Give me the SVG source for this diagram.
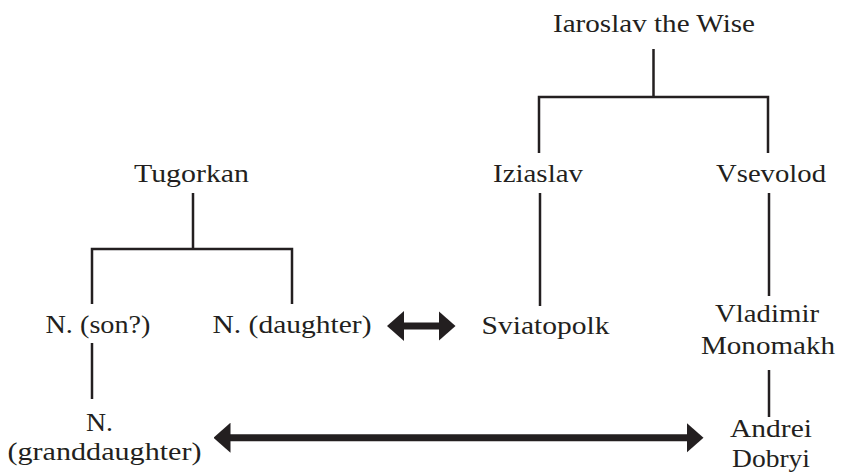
<svg xmlns="http://www.w3.org/2000/svg" width="846" height="474" viewBox="0 0 846 474">
<style>
text{font-family:"Liberation Serif","Times New Roman",serif;font-size:26px;fill:#231f20;text-anchor:middle}
.ln{fill:none;stroke:#231f20;stroke-width:2.5;stroke-linecap:butt;stroke-linejoin:miter}
.ar{fill:none;stroke:#231f20;stroke-width:7;marker-start:url(#head);marker-end:url(#head)}
</style>
<defs>
<marker id="head" markerUnits="userSpaceOnUse" viewBox="0 0 17 30" markerWidth="17" markerHeight="30" refX="0.5" refY="15" orient="auto-start-reverse">
<path d="M0,0 L17,15 L0,30 Z" fill="#231f20"/>
</marker>
</defs>
<rect width="846" height="474" fill="#ffffff"/>
<g id="connectors">
<path class="ln" d="M653.5,49 V97 M539,153 V97 H768 V153"/>
<path class="ln" d="M540,193 V306"/>
<path class="ln" d="M769,193 V296"/>
<path class="ln" d="M193,193 V249 M92,304 V249 H292 V304"/>
<path class="ln" d="M92,343 V399"/>
<path class="ln" d="M769,370 V417"/>
<path class="ar" d="M403.5,326 H439"/>
<path class="ar" d="M230,437.7 H687"/>
</g>
<g id="iaroslav"><text x="654" y="32" textLength="202" lengthAdjust="spacingAndGlyphs">Iaroslav the Wise</text></g>
<g id="tugorkan"><text x="191.5" y="182" textLength="115" lengthAdjust="spacingAndGlyphs">Tugorkan</text></g>
<g id="iziaslav"><text x="538" y="182" textLength="90" lengthAdjust="spacingAndGlyphs">Iziaslav</text></g>
<g id="vsevolod"><text x="771" y="182" textLength="110" lengthAdjust="spacingAndGlyphs">Vsevolod</text></g>
<g id="son"><text x="98" y="333" textLength="105" lengthAdjust="spacingAndGlyphs">N. (son?)</text></g>
<g id="daughter"><text x="292" y="333" textLength="159" lengthAdjust="spacingAndGlyphs">N. (daughter)</text></g>
<g id="sviatopolk"><text x="545.5" y="334" textLength="128" lengthAdjust="spacingAndGlyphs">Sviatopolk</text></g>
<g id="vladimir"><text x="767" y="321.5" textLength="104" lengthAdjust="spacingAndGlyphs">Vladimir</text><text x="768" y="353.5" textLength="134" lengthAdjust="spacingAndGlyphs">Monomakh</text></g>
<g id="granddaughter"><text x="99.5" y="430.5" textLength="27" lengthAdjust="spacingAndGlyphs">N.</text><text x="104.5" y="460" textLength="194" lengthAdjust="spacingAndGlyphs">(granddaughter)</text></g>
<g id="andrei"><text x="771" y="436.7" textLength="82" lengthAdjust="spacingAndGlyphs">Andrei</text><text x="771" y="466.5" textLength="78" lengthAdjust="spacingAndGlyphs">Dobryi</text></g>
</svg>
